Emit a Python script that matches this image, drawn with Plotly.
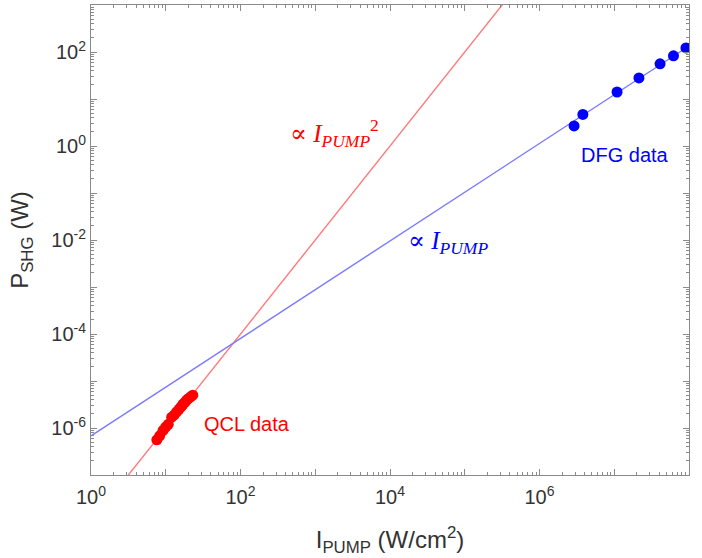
import plotly.graph_objects as go

# ---- data ----
qcl_I = [7.6, 8.3, 9.2, 10.0, 10.8, 12.0, 13.0, 14.0, 15.0, 16.0, 17.0, 18.0, 19.0, 20.0, 21.5, 23.0]
qcl_P = [5.6e-7, 6.8e-7, 8.9e-7, 1.05e-6, 1.2e-6, 1.7e-6, 1.9e-6, 2.2e-6, 2.5e-6, 2.8e-6,
         3.2e-6, 3.5e-6, 3.9e-6, 4.2e-6, 4.6e-6, 5.0e-6]

dfg_I = [2.9e6, 3.8e6, 1.09e7, 2.14e7, 4.1e7, 6.2e7, 9.1e7]
dfg_P = [2.67, 4.7, 14.1, 28.0, 56.0, 83.0, 122.0]

blue_fit_I = [1.0, 1.0e8]
blue_fit_P = [6.8e-7, 1.34e2]
red_fit_I = [1.0, 1.0e6]
red_fit_P = [1.0e-8, 1.0e4]

x_tickvals = [1e0, 1e1, 1e2, 1e3, 1e4, 1e5, 1e6, 1e7, 1e8]
x_ticktext = ["10<sup>0</sup>", "", "10<sup>2</sup>", "", "10<sup>4</sup>", "",
              "10<sup>6</sup>", "", "10<sup>8</sup>"]
y_tickvals = [1e-7, 1e-6, 1e-5, 1e-4, 1e-3, 1e-2, 1e-1, 1e0, 1e1, 1e2, 1e3]
y_ticktext = ["", "10<sup>-6</sup>", "", "10<sup>-4</sup>", "", "10<sup>-2</sup>", "",
              "10<sup>0</sup>", "", "10<sup>2</sup>", ""]

RED = "#FF0000"
BLUE = "#0000FF"
AXC = "#8a8a8a"
TXT = "#333333"

fig = go.Figure()
fig.add_trace(go.Scatter(x=red_fit_I, y=red_fit_P, mode="lines",
                         line=dict(color="#FF7A7A", width=1.4), showlegend=False))
fig.add_trace(go.Scatter(x=blue_fit_I, y=blue_fit_P, mode="lines",
                         line=dict(color="#7A7AFF", width=1.4), showlegend=False))
fig.add_trace(go.Scatter(x=qcl_I, y=qcl_P, mode="markers",
                         marker=dict(color=RED, size=11), showlegend=False))
fig.add_trace(go.Scatter(x=dfg_I, y=dfg_P, mode="markers",
                         marker=dict(color=BLUE, size=11), showlegend=False))

serif = "Liberation Serif, DejaVu Serif, serif"
sans = "Liberation Sans, Arial, sans-serif"

annots = [
    dict(x=2.64, y=0.283, text="∝ <i>I</i><sub><i>PUMP</i></sub><sup>2</sup>",
         font=dict(family=serif, size=25, color=RED)),
    dict(x=4.22, y=-2.06, text="∝ <i>I</i><sub><i>PUMP</i></sub>",
         font=dict(family=serif, size=25, color=BLUE)),
    dict(x=1.48, y=-5.91, text="QCL data", font=dict(family=sans, size=20, color=RED)),
    dict(x=6.53, y=-0.185, text="DFG data", font=dict(family=sans, size=20, color=BLUE)),
]
for a in annots:
    fig.add_annotation(xref="x", yref="y", showarrow=False, xanchor="left",
                       yanchor="middle", **a)

axis_common = dict(
    type="log", showline=True, linecolor=AXC, linewidth=1, mirror="ticks",
    ticks="inside", ticklen=6, tickcolor=AXC, showgrid=False, zeroline=False,
    tickmode="array", tickfont=dict(family=sans, size=20, color=TXT),
    minor=dict(ticks="inside", ticklen=3, tickcolor=AXC, dtick="D1", showgrid=False),
)

fig.update_xaxes(range=[0, 8], tickvals=x_tickvals, ticktext=x_ticktext,
                 ticklabelstandoff=4,
                 title=dict(text="I<sub>PUMP</sub> (W/cm<sup>2</sup>)",
                            font=dict(family=sans, size=24, color=TXT), standoff=24),
                 **axis_common)
fig.update_yaxes(range=[-7, 3], tickvals=y_tickvals, ticktext=y_ticktext,
                 title=dict(text="P<sub>SHG</sub> (W)",
                            font=dict(family=sans, size=24, color=TXT), standoff=15),
                 **axis_common)

fig.update_layout(width=702, height=558, margin=dict(l=91, r=13, t=5, b=83),
                  plot_bgcolor="white", paper_bgcolor="white")

fig.write_html("out.html")
